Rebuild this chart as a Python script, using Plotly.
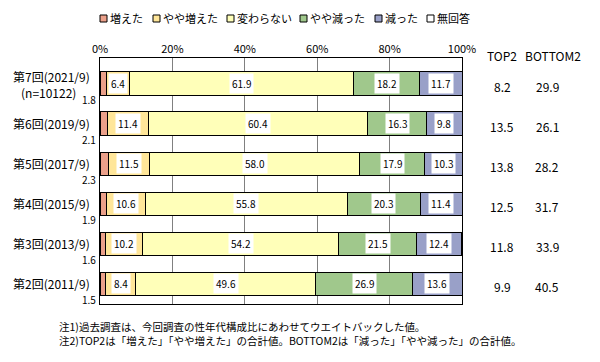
import plotly.graph_objects as go

# ---------------- data ----------------
rounds = ["第7回(2021/9)", "第6回(2019/9)", "第5回(2017/9)", "第4回(2015/9)", "第3回(2013/9)", "第2回(2011/9)"]
round_sub = ["(n=10122)", "", "", "", "", ""]
series_names = ["増えた", "やや増えた", "変わらない", "やや減った", "減った", "無回答"]
fueta = [1.8, 2.1, 2.3, 1.9, 1.6, 1.5]
yaya_fueta = [6.4, 11.4, 11.5, 10.6, 10.2, 8.4]
kawaranai = [61.9, 60.4, 58.0, 55.8, 54.2, 49.6]
yaya_hetta = [18.2, 16.3, 17.9, 20.3, 21.5, 26.9]
hetta = [11.7, 9.8, 10.3, 11.4, 12.4, 13.6]
mukaito = [0.0, 0.0, 0.0, 0.0, 0.1, 0.0]
top2 = [8.2, 13.5, 13.8, 12.5, 11.8, 9.9]
bottom2 = [29.9, 26.1, 28.2, 31.7, 33.9, 40.5]
x_tick_vals = [0, 20, 40, 60, 80, 100]
x_tick_text = ["0%", "20%", "40%", "60%", "80%", "100%"]
notes = [
    "注1)過去調査は、今回調査の性年代構成比にあわせてウエイトバックした値。",
    "注2)TOP2は「増えた」「やや増えた」の合計値。BOTTOM2は「減った」「やや減った」の合計値。",
]

series = [fueta, yaya_fueta, kawaranai, yaya_hetta, hetta, mukaito]
colors = ["#EBA08A", "#FFE699", "#FFFFB9", "#A0C88C", "#99A0C8", "#FFFFFF"]

FONT = "Noto Sans CJK JP"

# ---------------- layout geometry (window pixels) ----------------
OFF = 8  # page body margin
W, H = 600 - OFF, 362 - OFF
PLOT_L, PLOT_R, PLOT_T, PLOT_B = 100, 462, 58, 304
ML, MT = PLOT_L - OFF, PLOT_T - OFF
MR, MB = 600 - PLOT_R, 362 - PLOT_B
PW, PH = PLOT_R - PLOT_L, PLOT_B - PLOT_T


def px_x(px):
    return (px - PLOT_L) / PW


def px_y(py):
    return (PLOT_B - py) / PH


fig = go.Figure()
for name, vals, col in zip(series_names, series, colors):
    fig.add_trace(go.Bar(
        y=rounds, x=vals, name=name, orientation="h",
        marker=dict(color=col, line=dict(color="black", width=1)),
        width=0.58, showlegend=False, hoverinfo="x+name",
    ))

annotations = []
for i, r in enumerate(rounds):
    start = 0.0
    for s_idx, vals in enumerate(series):
        v = vals[i]
        if s_idx in (1, 2, 3, 4):
            annotations.append(dict(
                x=start + v / 2, y=r, xref="x", yref="y", text=f"{v:.1f}",
                showarrow=False, bgcolor="white", borderpad=2,
                xanchor="center", yanchor="middle",
                font=dict(family=FONT, size=10, color="black"),
            ))
        start += v
    annotations.append(dict(
        x=0, y=r, xref="x", yref="y", text=f"{fueta[i]:.1f}", showarrow=False,
        xanchor="right", yanchor="middle", xshift=-2, yshift=-16,
        font=dict(family=FONT, size=10, color="black"),
    ))
    if round_sub[i]:
        annotations.append(dict(
            x=0, y=r, xref="paper", yref="y", text=r, showarrow=False,
            xanchor="right", yanchor="middle", xshift=-8, yshift=7,
            font=dict(family=FONT, size=12, color="black"),
        ))
        annotations.append(dict(
            x=0, y=r, xref="paper", yref="y", text=round_sub[i], showarrow=False,
            xanchor="right", yanchor="middle", xshift=-22, yshift=-9,
            font=dict(family=FONT, size=12, color="black"),
        ))
    else:
        annotations.append(dict(
            x=0, y=r, xref="paper", yref="y", text=r, showarrow=False,
            xanchor="right", yanchor="middle", xshift=-8,
            font=dict(family=FONT, size=12, color="black"),
        ))
    annotations.append(dict(
        x=px_x(502), y=r, xref="paper", yref="y", text=f"{top2[i]:.1f}",
        showarrow=False, xanchor="center", yanchor="middle", yshift=-3,
        font=dict(family=FONT, size=12, color="black"),
    ))
    annotations.append(dict(
        x=px_x(547), y=r, xref="paper", yref="y", text=f"{bottom2[i]:.1f}",
        showarrow=False, xanchor="center", yanchor="middle", yshift=-3,
        font=dict(family=FONT, size=12, color="black"),
    ))

annotations.append(dict(x=px_x(502), y=px_y(55), xref="paper", yref="paper", text="TOP2",
                        showarrow=False, xanchor="center", yanchor="middle",
                        font=dict(family=FONT, size=12, color="black")))
annotations.append(dict(x=px_x(553), y=px_y(55), xref="paper", yref="paper", text="BOTTOM2",
                        showarrow=False, xanchor="center", yanchor="middle",
                        font=dict(family=FONT, size=12, color="black")))

for k, t in enumerate(notes):
    annotations.append(dict(
        x=px_x(57), y=px_y(326 + 14 * k), xref="paper", yref="paper", text=t,
        showarrow=False, xanchor="left", yanchor="middle",
        font=dict(family=FONT, size=10.5, color="black"),
    ))

legend_px = [100, 153, 227, 300, 375, 427]
shapes = []
for name, col, lx in zip(series_names, colors, legend_px):
    shapes.append(dict(
        type="rect", xref="paper", yref="paper",
        x0=px_x(lx), x1=px_x(lx + 7), y0=px_y(22), y1=px_y(15),
        fillcolor=col, line=dict(color="black", width=1), layer="above",
    ))
    annotations.append(dict(
        x=px_x(lx + 8), y=px_y(18.5), xref="paper", yref="paper", text=name,
        showarrow=False, xanchor="left", yanchor="middle",
        font=dict(family=FONT, size=11, color="black"),
    ))

fig.update_layout(
    width=W, height=H, barmode="stack",
    margin=dict(l=ML, r=MR, t=MT, b=MB, autoexpand=False),
    paper_bgcolor="white", plot_bgcolor="white",
    font=dict(family=FONT, size=11, color="black"),
    annotations=annotations, shapes=shapes,
    xaxis=dict(
        side="top", range=[0, 100], tickvals=x_tick_vals, ticktext=x_tick_text,
        showgrid=True, gridcolor="#808080", gridwidth=1, zeroline=False,
        showline=True, linecolor="black", linewidth=1, mirror=True,
        ticks="", tickfont=dict(family=FONT, size=11, color="black"),
        fixedrange=True,
    ),
    yaxis=dict(
        categoryorder="array", categoryarray=rounds, autorange="reversed",
        showticklabels=False, showgrid=False, zeroline=False,
        showline=True, linecolor="black", linewidth=1, mirror=True, ticks="",
        fixedrange=True,
    ),
)

fig.write_html("out.html")
